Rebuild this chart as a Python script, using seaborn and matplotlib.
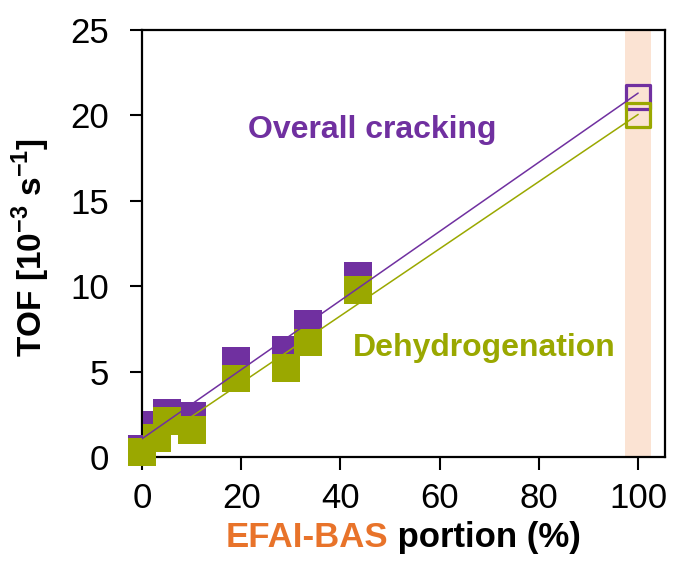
import matplotlib
matplotlib.use("Agg")
import matplotlib.pyplot as plt
import seaborn as sns
import pandas as pd
import numpy as np

# ---- data ----
efal_portion = [0, 3, 5, 10, 19, 29, 33.5, 43.5, 100]
overall_cracking = [0.5, 1.9, 2.6, 2.4, 5.6, 6.3, 7.8, 10.6, 21.1]
dehydrogenation = [0.3, 1.1, 2.1, 1.6, 4.6, 5.2, 6.7, 9.8, 20.0]
filled = [True, True, True, True, True, True, True, True, False]
x_ticks = [0, 20, 40, 60, 80, 100]
y_ticks = [0, 5, 10, 15, 20, 25]

PURPLE = "#7030A0"
GREEN = "#9AA800"
ORANGE = "#E8732A"
PEACH = "#FBE3D3"

sns.set_theme(style="white")
plt.rcParams["font.family"] = ["Liberation Sans", "DejaVu Sans"]
plt.rcParams["mathtext.fontset"] = "custom"
plt.rcParams["mathtext.rm"] = "Liberation Sans"
plt.rcParams["mathtext.bf"] = "Liberation Sans:bold"

FS = 25

df = pd.DataFrame({"x": efal_portion, "oc": overall_cracking,
                   "dh": dehydrogenation, "filled": filled})
df_f = df[df["filled"]]
df_h = df[~df["filled"]]

fig = plt.figure(figsize=(6.73, 5.67), dpi=100)
ax = fig.add_axes([0.211, 0.194, 0.777, 0.753])

ax.axvspan(97.3, 102.5, color=PEACH, zorder=0, lw=0)

sns.scatterplot(data=df_f, x="x", y="oc", marker="s", s=400, color=PURPLE,
                edgecolor="none", ax=ax, zorder=3, clip_on=False)
sns.scatterplot(data=df_f, x="x", y="dh", marker="s", s=400, color=GREEN,
                edgecolor="none", ax=ax, zorder=4, clip_on=False)
ax.scatter(df_h["x"], df_h["oc"], marker="s", s=300, facecolors="none",
           edgecolors=PURPLE, linewidths=2.3, zorder=4, clip_on=False)
ax.scatter(df_h["x"], df_h["dh"], marker="s", s=300, facecolors="none",
           edgecolors=GREEN, linewidths=2.3, zorder=4, clip_on=False)

sns.regplot(data=df, x="x", y="oc", scatter=False, ci=None, ax=ax,
            line_kws=dict(color=PURPLE, lw=1.1, zorder=5))
sns.regplot(data=df, x="x", y="dh", scatter=False, ci=None, ax=ax,
            line_kws=dict(color=GREEN, lw=1.1, zorder=5))

ax.set_xlim(0, 105.4)
ax.set_ylim(0, 25)
ax.set_xticks(x_ticks)
ax.set_yticks(y_ticks)
ax.tick_params(axis="both", which="both", direction="out", length=9,
               width=1.5, labelsize=FS, color="black", labelcolor="black",
               bottom=True, left=True)
ax.tick_params(axis="y", pad=15)
ax.tick_params(axis="x", pad=9)
for sp in ax.spines.values():
    sp.set_visible(True)
    sp.set_color("black")
    sp.set_linewidth(1.6)
    sp.set_zorder(2)

ax.set_xlabel("")
ax.set_ylabel(r"TOF [10$^{\mathbf{-3}}$ s$^{\mathbf{-1}}$]", fontsize=24,
              fontweight="bold", color="black")
ax.yaxis.set_label_coords(-0.172, 0.49)

ax.text(0.44, 0.765, "Overall cracking", transform=ax.transAxes,
        color=PURPLE, fontsize=23, fontweight="bold", ha="center", va="center")
ax.text(0.655, 0.255, "Dehydrogenation", transform=ax.transAxes,
        color=GREEN, fontsize=23, fontweight="bold", ha="center", va="center")

# two-coloured x label, centred under the axes
t1 = fig.text(0, 0.035, "EFAI-BAS", color=ORANGE, fontsize=FS,
              fontweight="bold", ha="left", va="baseline")
t2 = fig.text(0, 0.035, " portion (%)", color="black", fontsize=FS,
              fontweight="bold", ha="left", va="baseline")
fig.canvas.draw()
r = fig.canvas.get_renderer()
w1 = t1.get_window_extent(r).width / fig.bbox.width
w2 = t2.get_window_extent(r).width / fig.bbox.width
cx = 0.211 + 0.777 / 2
x0 = cx - (w1 + w2) / 2
t1.set_x(x0)
t2.set_x(x0 + w1)

fig.savefig("out.png", dpi=100)
